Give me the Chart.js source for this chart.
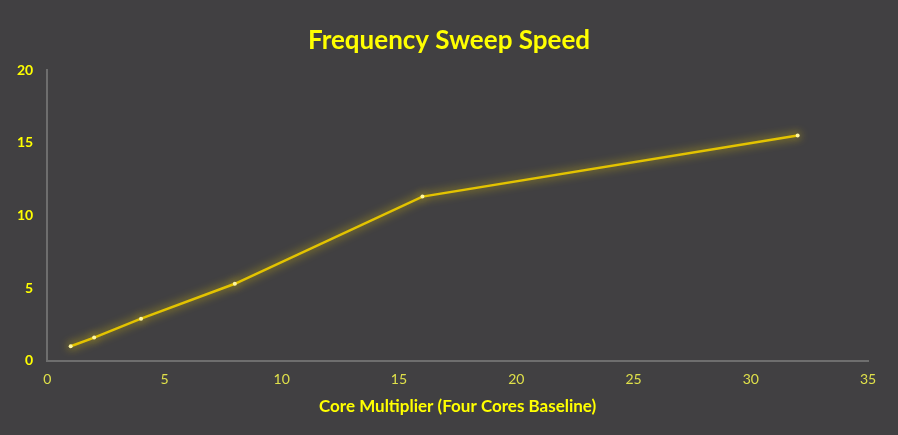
<!DOCTYPE html>
<html>
<head>
<meta charset="utf-8">
<script src="https://cdn.jsdelivr.net/npm/chart.js@4.4.0/dist/chart.umd.min.js"></script>
<style>
  html, body { margin: 0; padding: 0; background: #414042; }
  #wrap { width: 898px; height: 435px; }
</style>
</head>
<body>
<div id="wrap"><canvas id="sweepChart"></canvas></div>
<script>
// core multiplier vs. speedup
const coreMultiplier = [1, 2, 4, 8, 16, 32];
const sweepSpeed = [1.0, 1.6, 2.9, 5.3, 11.3, 15.5];

const xTicks = [0, 5, 10, 15, 20, 25, 30, 35];
const yTicks = [0, 5, 10, 15, 20];

// soft glow around the line
const glowPlugin = {
  id: 'glow',
  beforeDatasetsDraw(chart) {
    const ctx = chart.ctx;
    ctx.save();
    ctx.shadowColor = 'rgba(240, 210, 0, 0.9)';
    ctx.shadowBlur = 10;
  },
  afterDatasetsDraw(chart) {
    chart.ctx.restore();
  }
};

const ctx = document.getElementById('sweepChart').getContext('2d');
new Chart(ctx, {
  type: 'line',
  data: {
    datasets: [{
      label: 'Frequency Sweep Speed',
      data: coreMultiplier.map((x, i) => ({ x: x, y: sweepSpeed[i] })),
      borderColor: '#e3c300',
      borderWidth: 2.5,
      pointRadius: 2,
      pointBackgroundColor: '#fff6a0',
      pointBorderWidth: 0,
      tension: 0
    }]
  },
  options: {
    responsive: true,
    maintainAspectRatio: false,
    animation: false,
    layout: { padding: { left: 3, right: 3, top: 25, bottom: 18 } },
    plugins: {
      legend: { display: false },
      tooltip: { enabled: false },
      title: {
        display: true,
        text: 'Frequency Sweep Speed',
        color: '#ffff00',
        font: { family: 'Lato', size: 26, weight: 'bold' },
        padding: { top: 0, bottom: 14 }
      }
    },
    scales: {
      x: {
        type: 'linear',
        min: 0,
        max: 35,
        afterBuildTicks: axis => { axis.ticks = xTicks.map(v => ({ value: v })); },
        grid: { display: false, drawTicks: false },
        border: { color: '#6e6e6e', width: 2 },
        ticks: {
          color: '#dfe04a',
          padding: 10,
          font: { family: 'Lato', size: 14 }
        },
        title: {
          display: true,
          text: 'Core Multiplier (Four Cores Baseline)',
          color: '#ffff00',
          font: { family: 'Lato', size: 17, weight: 'bold' },
          padding: { top: -1, bottom: 0 }
        }
      },
      y: {
        min: 0,
        max: 20,
        afterBuildTicks: axis => { axis.ticks = yTicks.map(v => ({ value: v })); },
        grid: { display: false, drawTicks: false },
        border: { color: '#6e6e6e', width: 2 },
        ticks: {
          color: '#ffff00',
          padding: 14,
          font: { family: 'Lato', size: 14, weight: 'bold' }
        }
      },
      // empty right-hand axis, only keeps a margin so the title stays centred on the page
      spacer: {
        position: 'right',
        min: 0,
        max: 20,
        afterFit: axis => { axis.width = 27; },
        grid: { display: false, drawTicks: false },
        border: { display: false },
        ticks: { display: false }
      }
    }
  },
  plugins: [glowPlugin]
});
</script>
</body>
</html>
